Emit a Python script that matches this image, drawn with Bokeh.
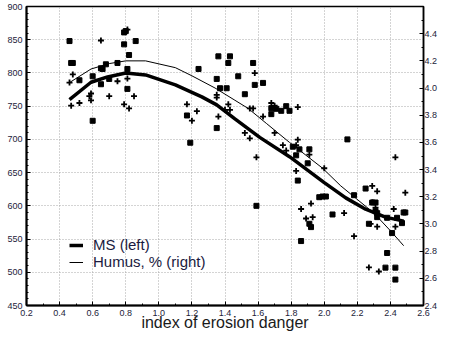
from bokeh.plotting import figure
from bokeh.models import (Range1d, LinearAxis, SingleIntervalTicker, NumeralTickFormatter,
                          Legend, LegendItem)
from bokeh.embed import file_html
from bokeh.resources import INLINE

# MS (left axis) observations
ms_x = [0.46, 0.47, 0.48, 0.52, 0.60, 0.60, 0.65, 0.66, 0.68, 0.75, 0.65, 0.70, 0.79, 0.80,
        0.79, 0.86, 0.82, 0.81, 0.81,
        1.24, 1.17, 1.19, 1.35, 1.35, 1.36, 1.43, 1.42, 1.57, 1.48, 1.37, 1.41, 1.58, 1.63,
        1.52, 1.68, 1.71, 1.77, 1.74, 1.79, 1.68, 2.14, 1.81, 1.85, 1.91, 1.83, 1.90, 1.84,
        1.59, 1.97, 1.99, 2.01, 1.86, 2.05, 1.91, 1.92, 2.18, 2.25, 2.29, 2.31, 2.31, 2.32,
        2.32, 2.27, 2.38, 2.41, 2.44, 2.47, 2.49, 2.48, 2.38, 2.37, 2.43, 2.43]
ms_y = [848, 815, 815, 789, 728, 795, 807, 806, 813, 815, 783, 791, 861, 863,
        843, 848, 827, 806, 776,
        806, 736, 695, 791, 717, 825, 825, 815, 815, 795, 777, 777, 782, 785,
        768, 747, 746, 750, 743, 743, 738, 700, 689, 685, 685, 676, 664, 638,
        600, 613, 614, 614, 547, 587, 573, 568, 616, 626, 605, 605, 592, 589,
        583, 573, 582, 559, 582, 574, 590, 590, 529, 507, 507, 489]

# Humus, % (right axis) observations
hum_x = [0.46, 0.47, 0.48, 0.52, 0.58, 0.59, 0.59, 0.65, 0.70, 0.75, 0.81, 0.79, 0.82, 0.85,
         0.81,
         1.17, 1.20, 1.23, 1.35, 1.35, 1.36, 1.42, 1.40, 1.43, 1.58, 1.55, 1.57, 1.63, 1.52,
         1.55, 1.59, 1.68, 1.70, 1.70, 1.84, 1.75, 1.77, 1.84, 1.83, 1.91, 2.00, 1.83, 1.86,
         1.92, 1.89, 1.93, 2.12, 2.18, 2.29, 2.32, 2.29, 2.31, 2.28, 2.32, 2.42, 2.43, 2.49,
         2.43, 2.27, 2.33]
hum_y = [4.04, 3.87, 4.10, 3.89, 3.94, 3.91, 3.96, 4.35, 3.94, 4.05, 4.07, 3.88, 3.85, 3.94,
         4.43,
         3.88, 3.76, 3.83, 3.95, 3.93, 3.79, 3.88, 3.84, 3.84, 4.11, 3.85, 3.85, 3.79, 3.67,
         3.63, 3.49, 3.89, 3.87, 3.67, 3.86, 3.58, 3.54, 3.62, 3.58, 3.51, 3.41, 3.39, 3.11,
         3.15, 3.04, 3.05, 3.08, 2.91, 3.28, 3.24, 3.16, 3.12, 3.00, 2.98, 3.11, 2.98, 3.23,
         3.49, 2.68, 2.65]

# fitted curves
ms_fit_x = [0.46, 0.59, 0.69, 0.80, 0.92, 1.10, 1.26, 1.35, 1.46, 1.61, 1.79, 2.00, 2.13,
            2.25, 2.37, 2.48]
ms_fit_y = [760, 786, 794, 800, 797, 782, 764, 752, 731, 703, 674, 635, 612, 595, 583, 577]
hum_fit_x = [0.46, 0.59, 0.70, 0.80, 0.92, 1.10, 1.20, 1.34, 1.46, 1.54, 1.65, 1.79, 1.99,
             2.10, 2.19, 2.30, 2.40, 2.48]
hum_fit_y = [4.04, 4.14, 4.18, 4.20, 4.20, 4.15, 4.09, 4.00, 3.91, 3.85, 3.74, 3.60, 3.41,
             3.28, 3.19, 3.08, 2.95, 2.84]

x_title = "index of erosion danger"

FONT = "Liberation Sans"
TICK_COL = "#1c1c3a"

p = figure(width=440, height=333, x_range=Range1d(0.2, 2.6), y_range=Range1d(450, 900),
           output_backend="svg", toolbar_location=None,
           min_border_left=26, min_border_right=10, min_border_top=6, min_border_bottom=26)
p.extra_y_ranges = {"humus": Range1d(2.4, 4.6)}

p.background_fill_color = "white"
p.border_fill_color = "white"
p.outline_line_color = "black"
p.outline_line_width = 1.5


def style_axis(ax):
    ax.axis_line_color = "black"
    ax.axis_line_width = 2
    ax.major_tick_in = 4
    ax.major_tick_out = 0
    ax.minor_tick_in = 2
    ax.minor_tick_out = 0
    ax.major_tick_line_color = "black"
    ax.minor_tick_line_color = "black"
    ax.major_label_text_font = FONT
    ax.major_label_text_font_size = "9px"
    ax.major_label_text_color = TICK_COL


xax = p.xaxis[0]
xax.ticker = SingleIntervalTicker(interval=0.2, num_minor_ticks=2)
xax.formatter = NumeralTickFormatter(format="0.0")
style_axis(xax)
xax.major_label_standoff = 4
xax.axis_label = x_title
xax.axis_label_text_font = FONT
xax.axis_label_text_font_size = "16px"
xax.axis_label_text_font_style = "normal"
xax.axis_label_text_color = "#1a1a1a"
xax.axis_label_standoff = -5

yax = p.yaxis[0]
yax.ticker = SingleIntervalTicker(interval=50, num_minor_ticks=5)
style_axis(yax)
yax.major_label_standoff = 4

rax = LinearAxis(y_range_name="humus",
                 ticker=SingleIntervalTicker(interval=0.2, num_minor_ticks=2),
                 formatter=NumeralTickFormatter(format="0.0"))
style_axis(rax)
rax.axis_line_width = 1.5
rax.major_label_standoff = 1
p.add_layout(rax, "right")

p.xgrid.ticker = SingleIntervalTicker(interval=0.2)
p.ygrid.ticker = SingleIntervalTicker(interval=50)
for g in (p.xgrid[0], p.ygrid[0]):
    g.grid_line_color = "#a8a8a8"
    g.grid_line_dash = "1 2"
    g.grid_line_width = 1

p.scatter(ms_x, ms_y, marker="square", size=5, fill_color="black", line_color="black")
p.scatter(hum_x, hum_y, marker="cross", size=6, line_color="black", line_width=1.8,
          y_range_name="humus")

ms_line = p.line(ms_fit_x, ms_fit_y, line_color="black", line_width=3.5)
hum_line = p.line(hum_fit_x, hum_fit_y, line_color="black", line_width=1,
                  y_range_name="humus")

legend = Legend(items=[LegendItem(label="MS (left)", renderers=[ms_line]),
                       LegendItem(label="Humus, % (right)", renderers=[hum_line])],
                location=(43, 35), orientation="vertical")
legend.background_fill_alpha = 0
legend.border_line_alpha = 0
legend.padding = 0
legend.margin = 0
legend.spacing = 0
legend.glyph_width = 14
legend.glyph_height = 12
legend.label_height = 12
legend.label_standoff = 10
legend.label_text_font = FONT
legend.label_text_font_size = "15px"
legend.label_text_color = "#1a1a40"
p.add_layout(legend, "center")

open("out.html", "w").write(file_html(p, INLINE))
